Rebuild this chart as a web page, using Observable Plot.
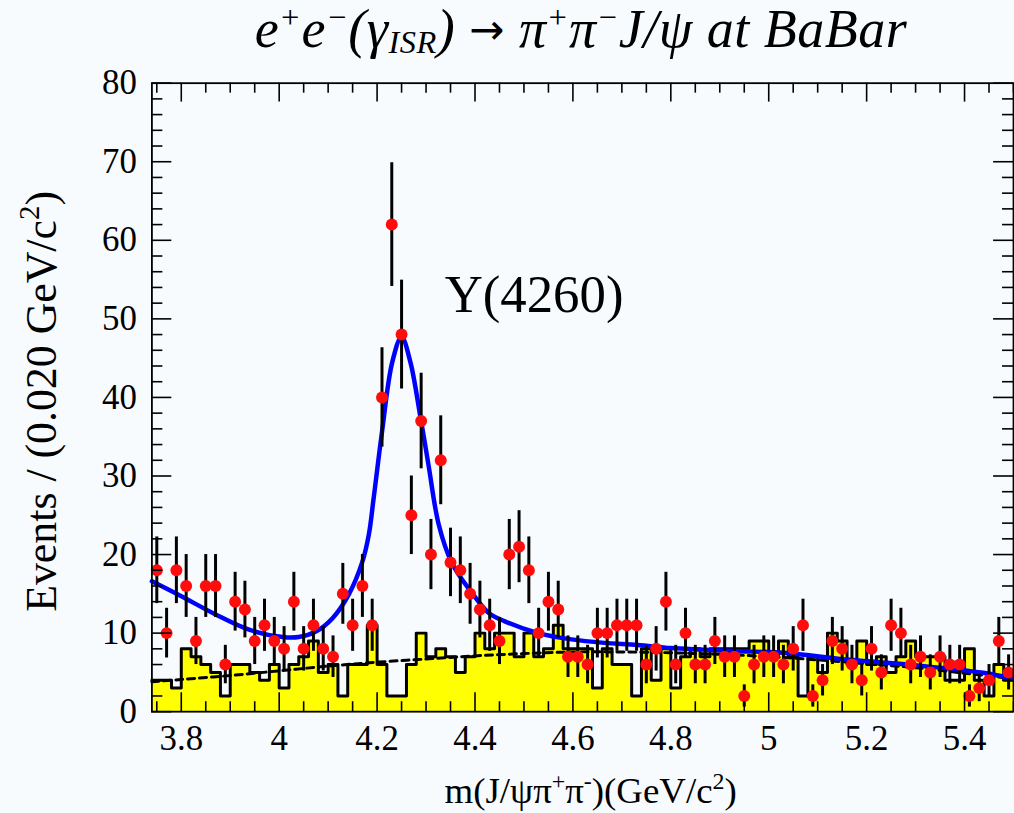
<!DOCTYPE html>
<html><head><meta charset="utf-8">
<script src="https://cdn.jsdelivr.net/npm/d3@7"></script>
<script src="https://cdn.jsdelivr.net/npm/@observablehq/plot@0.6"></script>
<style>
html,body{margin:0;padding:0;background:#f7fbfd;overflow:hidden;}
#wrap{position:relative;width:1014px;height:813px;overflow:hidden;}
#chart{position:absolute;left:0;top:0;}
#title{position:absolute;left:0;width:1162px;top:-2px;text-align:center;font-family:"Liberation Serif","Times New Roman",serif;font-style:italic;font-size:54px;white-space:nowrap;color:#000;letter-spacing:0.5px;}
#title sup{font-size:60%;vertical-align:0.6em;line-height:0;}
#title sub{font-size:60%;vertical-align:-0.2em;line-height:0;}
#title .arr{font-style:normal;font-family:"DejaVu Sans",sans-serif;font-size:42px;position:relative;top:-3px;}
</style></head><body>
<div id="wrap"><div id="chart"></div>
<div id="title">e<sup>+</sup>e<sup>&minus;</sup>(γ<sub>ISR</sub>) <span class="arr">&rarr;</span> π<sup>+</sup>π<sup>&minus;</sup>J/ψ at BaBar</div>
</div>
<script>
// ---- data ----
const binLow = [3.74,3.76,3.78,3.80,3.82,3.84,3.86,3.88,3.90,3.92,3.94,3.96,3.98,4.00,4.02,4.04,4.06,4.08,4.10,4.12,4.14,4.16,4.18,4.20,4.22,4.24,4.26,4.28,4.30,4.32,4.34,4.36,4.38,4.40,4.42,4.44,4.46,4.48,4.50,4.52,4.54,4.56,4.58,4.60,4.62,4.64,4.66,4.68,4.70,4.72,4.74,4.76,4.78,4.80,4.82,4.84,4.86,4.88,4.90,4.92,4.94,4.96,4.98,5.00,5.02,5.04,5.06,5.08,5.10,5.12,5.14,5.16,5.18,5.20,5.22,5.24,5.26,5.28,5.30,5.32,5.34,5.36,5.38,5.40,5.42,5.44,5.46,5.48];
const binWidth = 0.02;
const eventCounts = [18,10,18,16,9,16,16,6,14,13,9,11,9,8,14,8,11,8,7,15,11,16,11,40,62,48,25,37,20,32,19,18,15,13,11,9,20,21,18,10,14,13,7,7,6,10,10,11,11,11,6,8,14,6,10,6,6,9,7,7,2,6,7,7,6,8,11,2,4,9,8,6,4,8,5,11,10,6,7,5,7,6,6,2,3,4,9,5];
const sidebandCounts = [4,4,3,8,7,6,5,2,6,6,5,4,6,3,6,7,9,5,6,2,6,6,11,6,2,2,6,10,7,8,7,5,7,10,8,10,10,7,10,7,8,11,8,8,8,3,8,6,6,2,8,4,8,3,7,8,7,8,8,8,8,9,9,7,9,7,2,7,5,10,9,6,9,6,7,5,7,9,7,7,7,4,4,8,4,2,6,4];
// total fit
const fitMass = [3.74,3.80,3.871,3.94,4.007,4.04,4.075,4.109,4.142,4.17,4.183,4.193,4.21,4.231,4.25,4.268,4.288,4.305,4.326,4.353,4.394,4.4275,4.461,4.529,4.597,4.664,4.732,4.80,4.868,4.936,5.03,5.166,5.302,5.438,5.50];
const fitValue = [16.6,14.7,12.35,10.4,9.5,9.5,10.2,11.9,14.9,19.1,22.5,27.2,35.6,44.5,47.7,44.5,37.7,31.4,23.8,18.9,15.1,12.6,11.5,10.0,9.2,8.76,8.5,8.1,7.9,7.7,7.5,6.6,5.9,4.95,4.2];
// background component (dashed)
const bkgMass = [3.74,3.80,3.90,4.00,4.10,4.20,4.30,4.40,4.50,4.60,4.70,4.80,4.90,5.00,5.10,5.20,5.30,5.40,5.50];
const bkgValue = [3.8,4.1,4.6,5.2,5.8,6.3,6.7,7.1,7.4,7.6,7.6,7.5,7.3,7.0,6.6,6.1,5.6,4.9,4.2];
const xTickLabels = [3.8,4.0,4.2,4.4,4.6,4.8,5.0,5.2,5.4];
const xMinorTicks = [3.75,3.85,3.9,3.95,4.05,4.1,4.15,4.25,4.3,4.35,4.45,4.5,4.55,4.65,4.7,4.75,4.85,4.9,4.95,5.05,5.1,5.15,5.25,5.3,5.35,5.45,5.5];
const yTickLabels = [0,10,20,30,40,50,60,70,80];
const yMinorTicks = [2,4,6,8,12,14,16,18,22,24,26,28,32,34,36,38,42,44,46,48,52,54,56,58,62,64,66,68,72,74,76,78];
const peakLabel = [{mass: 4.338, value: 53.0, text: "Y(4260)"}];
const xDomain = [3.74, 5.50];
const yDomain = [0, 80];

// ---- tables ----
const bins = binLow.map((lo, i) => ({lo, hi: +(lo + binWidth).toFixed(2), mid: lo + binWidth / 2, n: eventCounts[i], sb: sidebandCounts[i]}));
const outline = bins.flatMap(b => [{x: b.lo, y: b.sb}, {x: b.hi, y: b.sb}]);
const fit = fitMass.map((m, i) => ({m, v: fitValue[i]}));
const bkg = bkgMass.map((m, i) => ({m, v: bkgValue[i]}));

const W = 1018, H = 813, mL = 152, mR = 1, mT = 83, mB = 99;
const fw = W - mL - mR, fh = H - mT - mB;
const serif = "'Liberation Serif','Times New Roman',serif";
const yLabelText = "Events / (0.020 GeV/c2)";
const xLabelText = "m(J/ψπ+π-)(GeV/c2)";

const chart = Plot.plot({
  width: W, height: H,
  marginLeft: mL, marginRight: mR, marginTop: mT, marginBottom: mB,
  x: {domain: xDomain},
  y: {domain: yDomain},
  style: {background: "transparent", fontFamily: serif, color: "black", overflow: "visible"},
  marks: [
    Plot.rectY(bins, {x1: "lo", x2: "hi", y: "sb", fill: "#ffff00", stroke: "#ffff00", strokeWidth: 0.6}),
    Plot.line(outline, {x: "x", y: "y", stroke: "black", strokeWidth: 3}),
    Plot.line(bkg, {x: "m", y: "v", stroke: "black", strokeWidth: 3, strokeDasharray: "7,5", curve: "catmull-rom"}),
    Plot.line(fit, {x: "m", y: "v", stroke: "#0000ff", strokeWidth: 4.5, curve: "catmull-rom"}),
    Plot.ruleX(bins, {x: "mid", y1: d => d.n - Math.sqrt(d.n), y2: d => d.n + Math.sqrt(d.n), stroke: "black", strokeWidth: 3}),
    Plot.dot(bins, {x: "mid", y: "n", r: 6, fill: "#ff0d0d", stroke: "none"}),
    // inward ticks on all four sides
    Plot.tickX(xTickLabels, {x: d => d, insetTop: fh - 19, stroke: "black", strokeWidth: 1.6}),
    Plot.tickX(xMinorTicks, {x: d => d, insetTop: fh - 10, stroke: "black", strokeWidth: 1.6}),
    Plot.tickX(xTickLabels, {x: d => d, insetBottom: fh - 19, stroke: "black", strokeWidth: 1.6}),
    Plot.tickX(xMinorTicks, {x: d => d, insetBottom: fh - 10, stroke: "black", strokeWidth: 1.6}),
    Plot.tickY(yTickLabels, {y: d => d, insetRight: fw - 20, stroke: "black", strokeWidth: 1.6}),
    Plot.tickY(yMinorTicks, {y: d => d, insetRight: fw - 11, stroke: "black", strokeWidth: 1.6}),
    Plot.tickY(yTickLabels, {y: d => d, insetLeft: fw - 20, stroke: "black", strokeWidth: 1.6}),
    Plot.tickY(yMinorTicks, {y: d => d, insetLeft: fw - 11, stroke: "black", strokeWidth: 1.6}),
    Plot.frame({stroke: "black", strokeWidth: 1.8}),
    Plot.axisX(xTickLabels, {tickSize: 0, tickPadding: 14, fontSize: 35, fontFamily: serif, label: null, tickFormat: d => String(d)}),
    Plot.axisY(yTickLabels, {tickSize: 0, tickPadding: 15, fontSize: 35, fontFamily: serif, label: null}),
    Plot.text(peakLabel, {x: "mass", y: "value", text: "text", textAnchor: "start", fontSize: 53, fontFamily: serif, fill: "black"}),
    Plot.text([yLabelText], {frameAnchor: "left", textAnchor: "middle", lineAnchor: "middle", dx: -110, dy: 4, rotate: -90, fontSize: 44, fontFamily: serif, fill: "black"}),
    Plot.text([xLabelText], {frameAnchor: "bottom", textAnchor: "middle", lineAnchor: "middle", dx: 8, dy: 80, fontSize: 37, fontFamily: serif, fill: "black"})
  ]
});

chart.querySelectorAll("text").forEach(t => {
  if (t.textContent === yLabelText) {
    t.innerHTML = 'Events / (0.020 GeV/c<tspan dy="-17" font-size="29">2</tspan><tspan dy="17">)</tspan>';
  } else if (t.textContent === xLabelText) {
    t.innerHTML = 'm(J/ψπ<tspan dy="-14" font-size="24">+</tspan><tspan dy="14">π</tspan><tspan dy="-14" font-size="24">-</tspan><tspan dy="14">)(GeV/c</tspan><tspan dy="-14" font-size="24">2</tspan><tspan dy="14">)</tspan>';
  }
});
document.getElementById("chart").appendChild(chart);
</script>
</body></html>
